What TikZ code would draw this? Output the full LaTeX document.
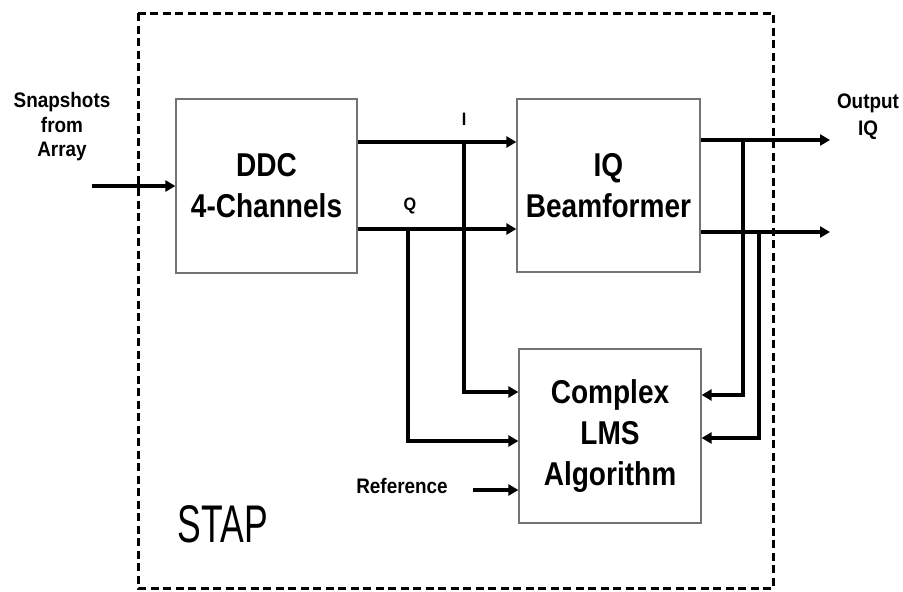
\documentclass[tikz,border=0pt]{standalone}
\usepackage{fontspec}
\setmainfont{Liberation Sans}
\newfontfamily\boxfont[FakeStretch=0.85]{Liberation Sans Bold}
\newfontfamily\lblfont[FakeStretch=0.9]{Liberation Sans Bold}
\newfontfamily\stapfont[FakeStretch=0.67]{Liberation Sans}
\usetikzlibrary{arrows.meta}
\begin{document}
\begin{tikzpicture}[x=1pt,y=-1pt,
  blk/.style={draw=black!55,line width=1.2pt,fill=white,inner sep=0pt,
    align=center,font=\boxfont\fontsize{33}{41}\selectfont},
  wire/.style={line width=3.5pt,line cap=butt},
  arr/.style={wire,-{Triangle[length=10pt,width=11pt]}},
  lbl/.style={align=center,inner sep=0pt,font=\lblfont\fontsize{21}{24.5}\selectfont},
  sml/.style={inner sep=0pt,font=\lblfont\fontsize{18}{20}\selectfont}]
\useasboundingbox (0,0) rectangle (903,592);
% STAP boundary
\draw[line width=3pt,dash pattern=on 8pt off 4.5pt] (138,13) rectangle (773,588);
% blocks
\node[blk,minimum width=181pt,minimum height=174pt] (ddc) at (266.5,186) {DDC\\4-Channels};
\node[blk,minimum width=183pt,minimum height=173pt] (iq) at (608.5,185.5) {IQ\\Beamformer};
\node[blk,minimum width=182pt,minimum height=174pt] (lms) at (610,436) {Complex\\LMS\\Algorithm};
% labels
\node[lbl] (snap) at (62,127) {Snapshots\\from\\Array};
\node[lbl,font=\lblfont\fontsize{21}{27}\selectfont] (out) at (868,117) {Output\\IQ};
\node[lbl] (ref) at (402,486) {Reference};
\node[sml] (ilbl) at (464,119) {I};
\node[sml] (qlbl) at (410,206) {Q};
\node[inner sep=0pt,font=\stapfont\fontsize{53}{60}\selectfont] (stap) at (223,524) {STAP};
% coordinates
\coordinate (in) at (92,186);
\coordinate (iy) at (0,142);
\coordinate (qy) at (0,229);
\coordinate (ix) at (464,142);
\coordinate (qx) at (408,229);
\coordinate (il) at (0,392);
\coordinate (ql) at (0,441);
\coordinate (rs) at (473,490);
\coordinate (o1) at (830,140);
\coordinate (o2) at (830,232);
\coordinate (f1) at (743,140);
\coordinate (f2) at (759,232);
\coordinate (f1y) at (0,395);
\coordinate (f2y) at (0,438);
% connectors
\draw[arr] (in) -- (in -| ddc.west);
\draw[arr] (ddc.east |- iy) -- (iq.west |- iy);
\draw[arr] (ddc.east |- qy) -- (iq.west |- qy);
\draw[arr] (ix) |- (lms.west |- il);
\draw[arr] (qx) |- (lms.west |- ql);
\draw[arr] (rs) -- (rs -| lms.west);
\draw[arr] (iq.east |- o1) -- (o1);
\draw[arr] (iq.east |- o2) -- (o2);
\draw[arr] (f1) |- (lms.east |- f1y);
\draw[arr] (f2) |- (lms.east |- f2y);
\end{tikzpicture}
\end{document}
